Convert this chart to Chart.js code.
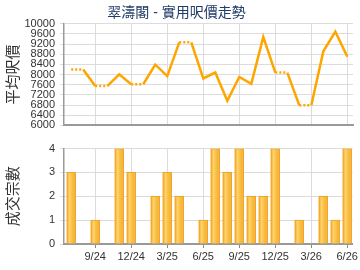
<!DOCTYPE html>
<html>
<head>
<meta charset="utf-8">
<script src="https://cdn.jsdelivr.net/npm/chart.js@4"></script>
<style>
  html, body { margin: 0; padding: 0; background: #fff; }
  #wrap { position: relative; width: 360px; height: 270px; }
  #top { position: absolute; left: 0; top: 0; width: 360px; height: 137px; }
  #bottom { position: absolute; left: 0; top: 137px; width: 360px; height: 133px; }
</style>
</head>
<body>
<div id="wrap">
  <div id="top"><canvas id="priceChart"></canvas></div>
  <div id="bottom"><canvas id="countChart"></canvas></div>
</div>
<script>
// chart data
const chartTitle = '翠濤閣 - 實用呎價走勢';
const months = [
  '7/24', '8/24', '9/24', '10/24', '11/24', '12/24',
  '1/25', '2/25', '3/25', '4/25', '5/25', '6/25',
  '7/25', '8/25', '9/25', '10/25', '11/25', '12/25',
  '1/26', '2/26', '3/26', '4/26', '5/26', '6/26'
];
// average price per sq ft (months without deals repeat the last price)
const prices = [
  8200, 8200, 7550, 7550, 8010, 7620,
  7620, 8390, 7940, 9270, 9270, 7850,
  8080, 6970, 7910, 7640, 9480, 8080,
  8080, 6790, 6790, 8920, 9690, 8700
];
// number of deals
const counts = [
  3, 0, 1, 0, 4, 3,
  0, 2, 3, 2, 0, 1,
  4, 3, 4, 2, 2, 4,
  0, 1, 0, 2, 1, 4
];
const xTickLabels = ['9/24', '12/24', '3/25', '6/25', '9/25', '12/25', '3/26', '6/26'];
const priceTicks = [6000, 6400, 6800, 7200, 7600, 8000, 8400, 8800, 9200, 9600, 10000];
const countTicks = [0, 1, 2, 3, 4];

const FONT = '"Liberation Sans", Arial, "Noto Sans CJK TC", sans-serif';
Chart.defaults.font.family = FONT;
Chart.defaults.font.size = 11;
Chart.defaults.color = '#333';

const GRID = '#dcdcdc';
const AXIS = '#999';

function monthAxis(showLabels) {
  return {
    type: 'linear',
    min: -0.6,
    max: 23.47,
    offset: false,
    afterBuildTicks: function (scale) {
      scale.ticks = xTickLabels.map(m => ({ value: months.indexOf(m) }));
    },
    afterFit: function (scale) {
      if (showLabels) scale.height = 26;
    },
    grid: {
      color: GRID,
      offset: false,
      drawTicks: showLabels,
      tickLength: 4,
      tickColor: '#888'
    },
    border: { color: AXIS, width: 2 },
    ticks: {
      display: showLabels,
      autoSkip: false,
      maxRotation: 0,
      padding: 2,
      color: '#333',
      callback: v => months[v]
    }
  };
}

function valueAxis(title, ticks) {
  return {
    min: ticks[0],
    max: ticks[ticks.length - 1],
    afterBuildTicks: function (scale) {
      scale.ticks = ticks.map(v => ({ value: v }));
    },
    afterFit: function (scale) {
      scale.width = 64;
    },
    grid: { color: GRID, tickLength: 4 },
    border: { color: AXIS, width: 1.5 },
    ticks: { autoSkip: false, padding: 5, color: '#333', callback: v => String(v) },
    title: {
      display: true,
      text: title,
      color: '#333',
      font: { size: 15 },
      padding: { top: 5, bottom: 0 }
    }
  };
}

// price line chart
const priceCtx = document.getElementById('priceChart').getContext('2d');
new Chart(priceCtx, {
  type: 'line',
  data: {
    datasets: [{
      data: prices.map((p, i) => ({ x: i, y: p })),
      borderColor: '#ffa500',
      borderWidth: 2.5,
      pointRadius: 0,
      tension: 0,
      fill: false,
      // dotted where the month had no deals
      segment: {
        borderDash: ctx => counts[ctx.p1DataIndex] === 0 ? [2, 2] : undefined
      }
    }]
  },
  options: {
    responsive: true,
    maintainAspectRatio: false,
    animation: false,
    layout: { padding: { left: 0, right: 7, top: 0, bottom: 0 } },
    plugins: {
      legend: { display: false },
      tooltip: { enabled: false },
      title: {
        display: true,
        text: chartTitle,
        color: '#1f3b66',
        font: { size: 14, weight: 'normal' },
        padding: { top: 5, bottom: 2 }
      }
    },
    scales: {
      x: monthAxis(false),
      y: valueAxis('平均呎價', priceTicks)
    }
  }
});

// bar fill with a soft highlight like the original
function barFill(context) {
  const chart = context.chart;
  if (!chart.chartArea || context.type !== 'data' || !chart.scales.x) return '#f7b940';
  const x = chart.scales.x.getPixelForValue(context.dataIndex);
  const g = chart.ctx.createLinearGradient(x - 4.5, 0, x + 4.5, 0);
  g.addColorStop(0, '#f0a01c');
  g.addColorStop(0.3, '#ffd46a');
  g.addColorStop(0.55, '#fbc24c');
  g.addColorStop(0.85, '#f5b034');
  g.addColorStop(1, '#ffe2a6');
  return g;
}

const countCtx = document.getElementById('countChart').getContext('2d');
new Chart(countCtx, {
  type: 'bar',
  data: {
    datasets: [{
      data: counts.map((c, i) => ({ x: i, y: c || null })),
      backgroundColor: barFill,
      borderColor: '#f0a623',
      borderWidth: 1,
      barThickness: 9
    }]
  },
  options: {
    responsive: true,
    maintainAspectRatio: false,
    animation: false,
    layout: { padding: { left: 0, right: 7, top: 10.3, bottom: 0 } },
    plugins: {
      legend: { display: false },
      tooltip: { enabled: false }
    },
    scales: {
      x: monthAxis(true),
      y: valueAxis('成交宗數', countTicks)
    }
  }
});
</script>
</body>
</html>
